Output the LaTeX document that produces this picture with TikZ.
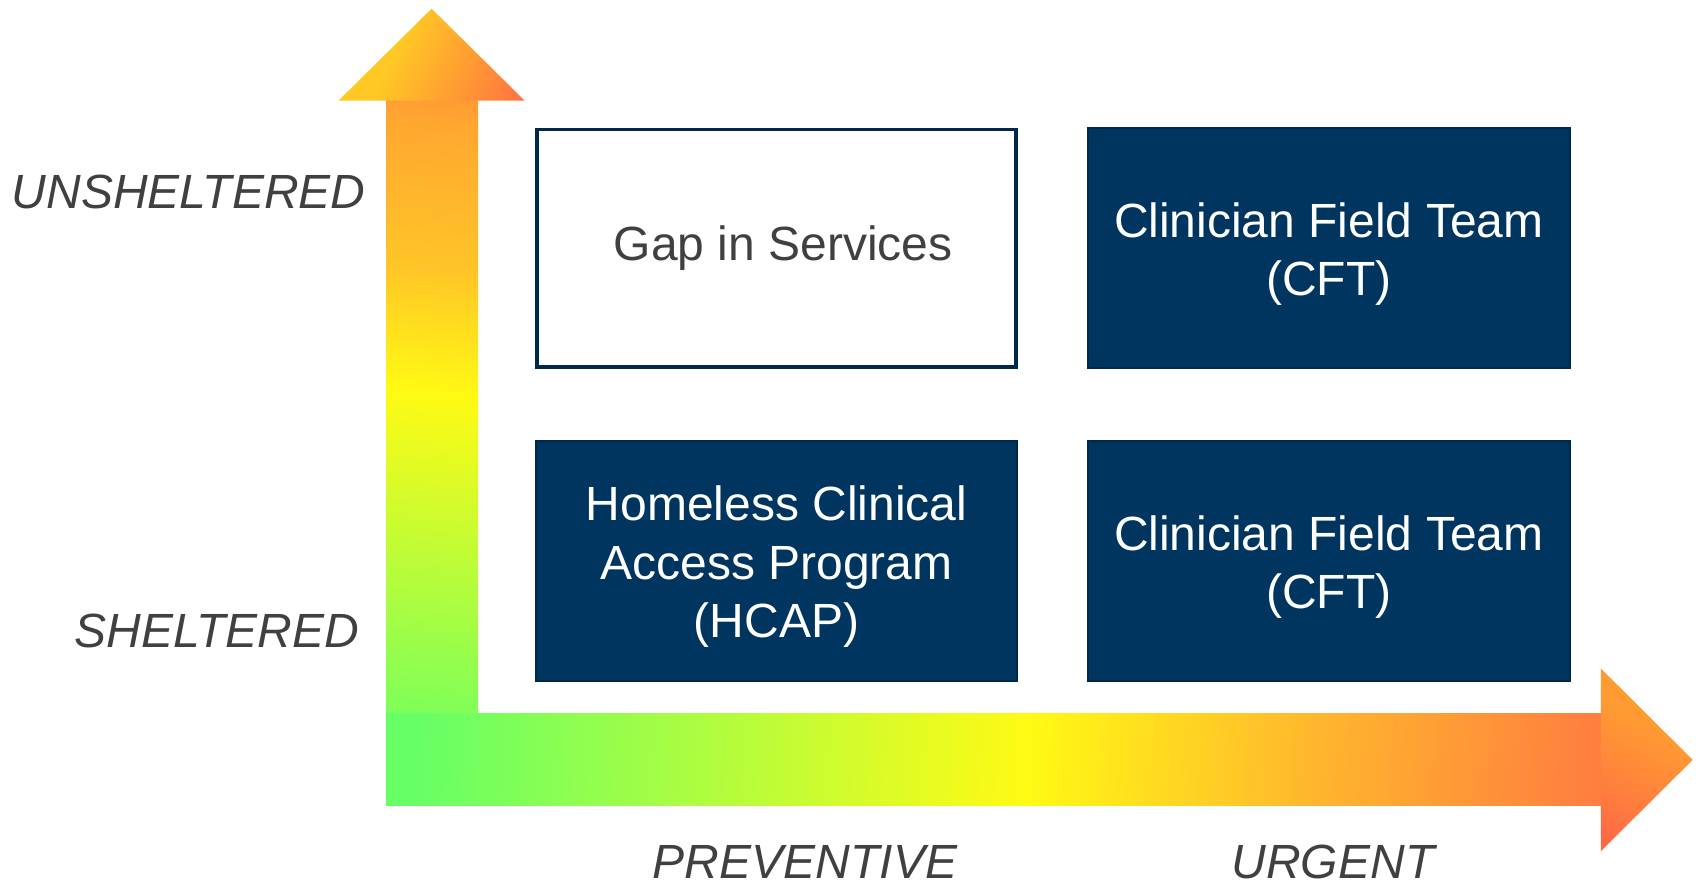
\documentclass[tikz,border=0pt]{standalone}
\usepackage{fontspec}
\setmainfont{Liberation Sans}
\definecolor{cGreen}{RGB}{102,255,102}
\definecolor{cYellow}{RGB}{255,250,20}
\definecolor{vYO}{RGB}{255,196,40}
\definecolor{vOr}{RGB}{255,168,48}
\definecolor{vOrB}{RGB}{255,142,56}
\definecolor{hYO}{RGB}{255,186,44}
\definecolor{hOr}{RGB}{255,130,62}
\definecolor{hOrB}{RGB}{255,115,66}
\definecolor{vhA}{RGB}{255,200,36}
\definecolor{vhB}{RGB}{255,158,50}
\definecolor{vhC}{RGB}{255,112,66}
\definecolor{hhA}{RGB}{255,155,50}
\definecolor{hhB}{RGB}{255,130,60}
\definecolor{hhC}{RGB}{255,99,71}
\definecolor{boxNavy}{RGB}{0,53,95}
\definecolor{navyEdge}{RGB}{0,40,75}
\definecolor{txtGray}{RGB}{64,64,64}
\pgfdeclarehorizontalshading{vshaft}{100bp}{color(0bp)=(cGreen); color(25bp)=(cGreen); color(54.5bp)=(cYellow); color(64.3bp)=(vYO); color(75bp)=(vOr); color(80bp)=(vOrB); color(100bp)=(vOrB)}
\pgfdeclarehorizontalshading{hshaft}{100bp}{color(0bp)=(cGreen); color(25bp)=(cGreen); color(51.4bp)=(cYellow); color(63bp)=(hYO); color(75bp)=(hOr); color(80bp)=(hOrB); color(100bp)=(hOrB)}
\pgfdeclarehorizontalshading{vhead}{100bp}{color(0bp)=(vhA); color(38.7bp)=(vhA); color(61.1bp)=(vhB); color(83.5bp)=(vhC); color(100bp)=(vhC)}
\pgfdeclarehorizontalshading{hhead}{100bp}{color(0bp)=(hhA); color(38.9bp)=(hhA); color(61.2bp)=(hhB); color(83.5bp)=(hhC); color(100bp)=(hhC)}
\newcommand{\boxstrut}{\rule{0pt}{46pt}}
\begin{document}
\begin{tikzpicture}[x=1pt,y=-1pt,
  boxtext/.style={align=center, inner sep=0pt, font=\fontsize{48}{58.4}\selectfont},
  darkbox/.style={boxtext, draw=navyEdge, fill=boxNavy, line width=2pt, text=white,
    minimum width=481.5pt, minimum height=240pt},
  lightbox/.style={boxtext, draw=navyEdge, fill=white, line width=3.6pt, text=txtGray,
    minimum width=478.8pt, minimum height=237.6pt},
  axislabel/.style={text=txtGray, font=\fontsize{48}{56}\selectfont\itshape, inner sep=0pt, anchor=base}]
\useasboundingbox (0,0) rectangle (1696,888);
% vertical axis arrow: shaft and head
\shade[shading=vshaft, shading angle=84]
  (386,805.8) -- (386,99) -- (478.1,99) -- (478.1,805.8) -- cycle;
\shade[shading=vhead, shading angle=-26.3]
  (338.5,100.6) -- (431.6,8.7) -- (524.6,100.6) -- cycle;
% horizontal axis arrow: shaft and head
\shade[shading=hshaft, shading angle=-3]
  (386,713.9) -- (1602.3,713.9) -- (1602.3,805.8) -- (386,805.8) -- cycle;
\shade[shading=hhead, shading angle=243.3]
  (1600.8,668.4) -- (1692.7,759.85) -- (1600.8,851.2) -- cycle;
% boxes
\node[lightbox] (gap)  at (776.6,248.2)   {\hspace*{13pt}Gap in Services};
\node[darkbox]  (cftU) at (1328.75,248.2) {\boxstrut Clinician Field Team\\(CFT)};
\node[darkbox]  (hcap) at (776.6,561.35)  {\boxstrut Homeless Clinical\\Access Program\\(HCAP)};
\node[darkbox]  (cftS) at (1328.75,561.35) {\boxstrut Clinician Field Team\\(CFT)};
% axis labels
\node[axislabel] (unsh) at (188.7,208.7) {UNSHELTERED};
\node[axislabel] (shel) at (217,647.5)   {SHELTERED};
\node[axislabel] (prev) at (805,878)     {PREVENTIVE};
\node[axislabel] (urg)  at (1333,878)    {URGENT};
\end{tikzpicture}
\end{document}
